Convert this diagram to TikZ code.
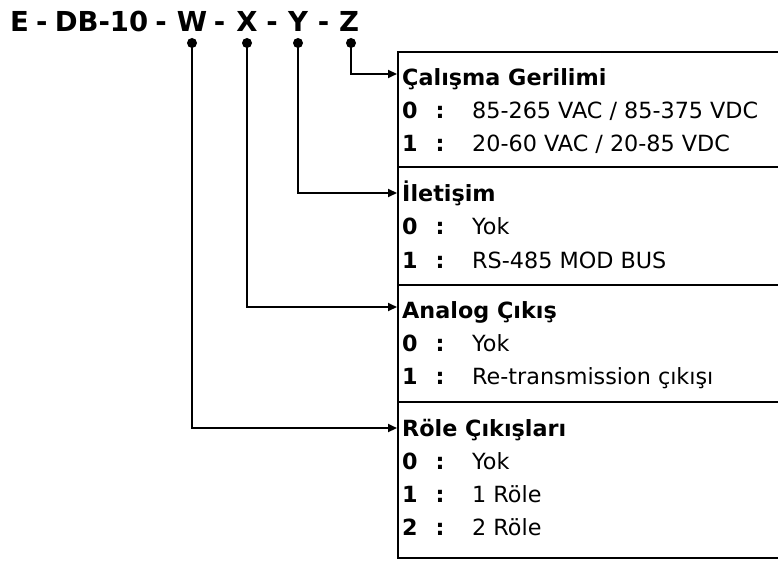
\documentclass[tikz,border=0pt]{standalone}
\usepackage{fontspec}
\setmainfont{DejaVu Sans}
\newfontfamily\ttlfont[WordSpace=0.75]{DejaVu Sans}
\usetikzlibrary{arrows.meta}
\tikzset{
  ln/.style={line width=2.2pt},
  conn/.style={line width=2.2pt, -{Triangle[length=9pt,width=8pt]}},
  ttl/.style={inner sep=0pt, anchor=base, font=\ttlfont\fontsize{27.5}{30}\selectfont\bfseries},
  head/.style={inner sep=0pt, anchor=base west, font=\fontsize{22.3}{26}\selectfont\bfseries},
  numst/.style={inner sep=0pt, anchor=base west, font=\fontsize{22.3}{26}\selectfont\bfseries},
  colst/.style={inner sep=0pt, anchor=base, font=\fontsize{22.3}{26}\selectfont\bfseries},
  valst/.style={inner sep=0pt, anchor=base west, font=\fontsize{22.3}{26}\selectfont},
}
\newcommand\optrow[4]{%
  \node[numst] (#1n) at (402,-#2) {#3};
  \node[colst] (#1c) at (440,-#2) {:};
  \node[valst] (#1v) at (472,-#2) {#4};}
\begin{document}
\begin{tikzpicture}[x=1pt,y=1pt]
\useasboundingbox (0,0) rectangle (778,-561);
\clip (0,0) rectangle (778,-561);
% title
\node[ttl, anchor=base west] (pre) at (10,-32) {E - DB-10 -};
\node[ttl] (W) at (192,-32) {W};
\node[ttl] (d1) at (219.5,-32) {-};
\node[ttl] (X) at (247,-32) {X};
\node[ttl] (d2) at (272,-32) {-};
\node[ttl] (Y) at (298,-32) {Y};
\node[ttl] (d3) at (323.5,-32) {-};
\node[ttl] (Z) at (349,-32) {Z};
% dots
\coordinate (pW) at (192,-43);
\coordinate (pX) at (247,-43);
\coordinate (pY) at (298,-43);
\coordinate (pZ) at (351,-43);
\foreach \p in {pW,pX,pY,pZ} \fill (\p) circle (5pt);
% box
\draw[ln] (800,-52) -- (398,-52) -- (398,-558) -- (800,-558);
\draw[ln] (398,-167) -- (800,-167);
\draw[ln] (398,-285) -- (800,-285);
\draw[ln] (398,-402) -- (800,-402);
% arrow targets on the box edge
\coordinate (aZ) at (397,-74);
\coordinate (aY) at (397,-193);
\coordinate (aX) at (397,-307);
\coordinate (aW) at (397,-428);
\draw[conn] (pZ) |- (aZ);
\draw[conn] (pY) |- (aY);
\draw[conn] (pX) |- (aX);
\draw[conn] (pW) |- (aW);
% section 1
\node[head] (h1) at (402,-86) {Çalışma Gerilimi};
\optrow{a}{119}{0}{85-265 VAC / 85-375 VDC}
\optrow{b}{152}{1}{20-60 VAC / 20-85 VDC}
% section 2
\node[head] (h2) at (402,-202) {İletişim};
\optrow{c}{235}{0}{Yok}
\optrow{d}{268}{1}{RS-485 MOD BUS}
% section 3
\node[head] (h3) at (402,-318) {Analog Çıkış};
\optrow{e}{351}{0}{Yok}
\optrow{f}{384}{1}{Re-transmission çıkışı}
% section 4
\node[head] (h4) at (402,-436) {Röle Çıkışları};
\optrow{g}{469}{0}{Yok}
\optrow{h}{502}{1}{1 Röle}
\optrow{i}{535}{2}{2 Röle}
\end{tikzpicture}
\end{document}
